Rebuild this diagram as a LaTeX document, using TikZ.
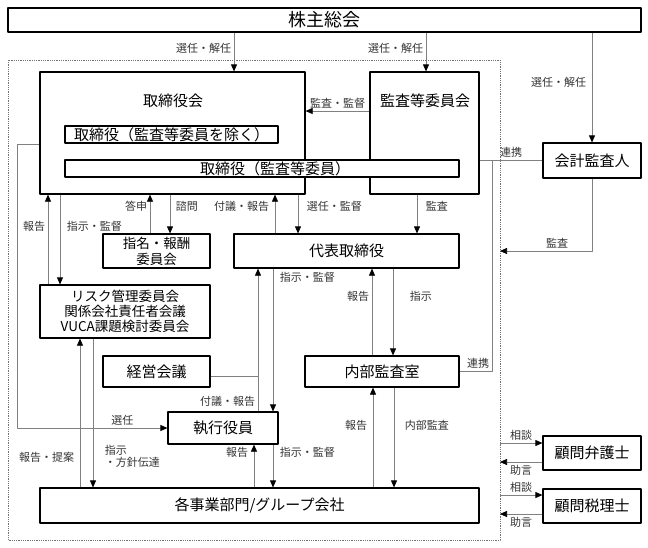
\documentclass[tikz,border=0pt]{standalone}
\usepackage{fontspec}
\setmainfont{Noto Sans CJK JP}
\usetikzlibrary{arrows.meta}
\begin{document}
\begin{tikzpicture}[x=1pt, y=-1pt, line join=round,
    box/.style={draw, line width=1.2pt, fill=white, inner sep=0pt, font=\fontsize{15}{17}\selectfont},
    ttl/.style={inner sep=0pt, font=\fontsize{15}{17}\selectfont},
    lbl/.style={inner sep=2.5pt, text=black!80, font=\fontsize{11}{12.5}\selectfont},
    con/.style={draw=black!50, line width=0.7pt},
    arr/.style={con, -{Triangle[length=7pt, width=6pt, color=black]}}]
    \useasboundingbox (0,0) rectangle (648,547);
    % company frame
    \draw[black!55, line width=0.9pt, dash pattern=on 1pt off 0.8pt] (8,60) rectangle (500,540);
    % boxes
    \node[box, minimum width=633, minimum height=24, font=\fontsize{18}{20}\selectfont] (soukai) at (324.5,20) {株主総会};
    \node[box, minimum width=265, minimum height=122] (tori) at (172.5,133) {};
    \node[ttl] (toriT) at (173,101) {取締役会};
    \node[box, minimum width=109, minimum height=122] (kansa) at (424.5,133) {};
    \node[ttl] (kansaT) at (425,101) {監査等委員会};
    \node[box, minimum width=213, minimum height=17] (excl) at (171.5,134.5) {取締役（監査等委員を除く）};
    \node[box, minimum width=394, minimum height=17] (iin) at (262,168.5) {\hspace*{26pt}取締役（監査等委員）};
    \node[box, minimum width=98, minimum height=35] (kaikei) at (592,160.5) {会計監査人};
    \node[box, minimum width=225, minimum height=34] (daihyo) at (346.5,251) {代表取締役};
    \node[box, minimum width=107, minimum height=34, align=center, font=\fontsize{13.5}{16}\selectfont] (shimei) at (156.5,251) {指名・報酬\\委員会};
    \node[box, minimum width=170, minimum height=53, align=center, font=\fontsize{13.5}{14.8}\selectfont] (risk) at (125,311.5) {リスク管理委員会\\関係会社責任者会議\\VUCA課題検討委員会};
    \node[box, minimum width=107, minimum height=31] (keiei) at (156.5,371.5) {経営会議};
    \node[box, minimum width=154, minimum height=31] (naibu) at (382,371.5) {内部監査室};
    \node[box, minimum width=110, minimum height=32] (shikko) at (223,428) {執行役員};
    \node[box, minimum width=439, minimum height=35] (jigyo) at (259.5,505.5) {各事業部門/グループ会社};
    \node[box, minimum width=98, minimum height=34] (bengo) at (592,453) {顧問弁護士};
    \node[box, minimum width=98, minimum height=34] (zeiri) at (592,506) {顧問税理士};
    % shareholders
    \draw[arr] (234,0 |- soukai.south) -- (234,0 |- tori.north) node[lbl, left, pos=0.4] (lSen1) {選任・解任};
    \draw[arr] (426,0 |- soukai.south) -- (426,0 |- kansa.north) node[lbl, left, pos=0.4] (lSen2) {選任・解任};
    \draw[arr] (kaikei.north |- soukai.south) -- (kaikei.north) node[lbl, left, pos=0.45, xshift=-3pt] (lSen3) {選任・解任};
    % audit committee
    \draw[arr] (kansa.west |- 0,111) -- (tori.east |- 0,111) node[lbl, above, midway] (lKan1) {監査・監督};
    \coordinate (renkei) at (492,160);
    \draw[con] (kansa.east |- 0,160) -- (kaikei.west |- 0,160) node[lbl, above, midway] (lRen1) {連携};
    \draw[con] (naibu.east) -| (renkei) node[lbl, above left, pos=0.5] (lRen2) {連携};
    \coordinate (kBound) at (500,251);
    \draw[arr] (kaikei.south) |- (kBound) node[lbl, above, pos=0.69] (lKan2) {監査};
    \draw[arr] (417,0 |- kansa.south) -- (417,0 |- daihyo.north) node[lbl, right, pos=0.3, xshift=6pt] (lKan3) {監査};
    % board
    \draw[arr] (298,0 |- tori.south) -- (298,0 |- daihyo.north) node[lbl, right, pos=0.3, xshift=6pt] (lSenK) {選任・監督};
    \draw[arr] (275,0 |- daihyo.north) -- (275,0 |- tori.south) node[lbl, left, pos=0.7, xshift=-3pt] (lFugi1) {付議・報告};
    \draw[arr] (150,0 |- shimei.north) -- (150,0 |- tori.south) node[lbl, left, pos=0.7] (lToshin) {答申};
    \draw[arr] (170,0 |- tori.south) -- (170,0 |- shimei.north) node[lbl, right, pos=0.3, xshift=3pt] (lShimon) {諮問};
    \draw[arr] (60,0 |- tori.south) -- (60,0 |- risk.north) node[lbl, right, pos=0.35, xshift=4pt] (lShiji1) {指示・監督};
    \draw[arr] (48,0 |- risk.north) -- (48,0 |- tori.south) node[lbl, left, pos=0.65] (lHou1) {報告};
    \draw[arr] (tori.west |- 0,144) -- (17,144) |- (shikko.west) node[lbl, above, pos=0.85] (lSen4) {選任};
    % representative director
    \coordinate (keieiJ) at (258,376);
    \draw[arr] (258,0 |- shikko.north) -- (258,0 |- daihyo.south) node[lbl, left, pos=0.07] (lFugi2) {付議・報告};
    \draw[con] (keiei.east |- keieiJ) -- (keieiJ);
    \draw[arr] (273,0 |- daihyo.south) -- (273,0 |- shikko.north) node[lbl, right, pos=0.06, xshift=4pt] (lShiji2) {指示・監督};
    \draw[arr] (393,0 |- daihyo.south) -- (393,0 |- naibu.north) node[lbl, right, pos=0.32, xshift=14pt] (lShiji3) {指示};
    \draw[arr] (372,0 |- naibu.north) -- (372,0 |- daihyo.south) node[lbl, left, pos=0.68] (lHou2) {報告};
    % executives and divisions
    \draw[arr] (273,0 |- shikko.south) -- (273,0 |- jigyo.north) node[lbl, right, pos=0.18, xshift=4pt] (lShiji4) {指示・監督};
    \draw[arr] (254,0 |- jigyo.north) -- (254,0 |- shikko.south) node[lbl, right, pos=0.82, anchor=east, xshift=-3pt] (lHou3) {報告};
    \draw[arr] (93,0 |- risk.south) -- (93,0 |- jigyo.north) node[lbl, anchor=west, align=left, pos=0.79, xshift=9pt] (lShiji5) {指示\\・方針伝達};
    \draw[arr] (80,0 |- jigyo.north) -- (80,0 |- risk.south) node[lbl, left, pos=0.2, xshift=-3pt] (lHou4) {報告・提案};
    \draw[arr] (394,0 |- naibu.south) -- (394,0 |- jigyo.north) node[lbl, right, pos=0.38, xshift=8pt] (lNaibu) {内部監査};
    \draw[arr] (373,0 |- jigyo.north) -- (373,0 |- naibu.south) node[lbl, left, pos=0.62, xshift=-3pt] (lHou5) {報告};
    % advisers
    \foreach \n/\a/\b in {bengo/443/462, zeiri/495/514} {
        \coordinate (\n In) at (500,\a);
        \coordinate (\n Out) at (500,\b);
        \draw[arr] (\n In) -- (\n.west |- \n In) node[lbl, above, midway] (\n Sou) {相談};
        \draw[arr] (\n.west |- \n Out) -- (\n Out) node[lbl, below, midway] (\n Jo) {助言};
    }
\end{tikzpicture}
\end{document}
